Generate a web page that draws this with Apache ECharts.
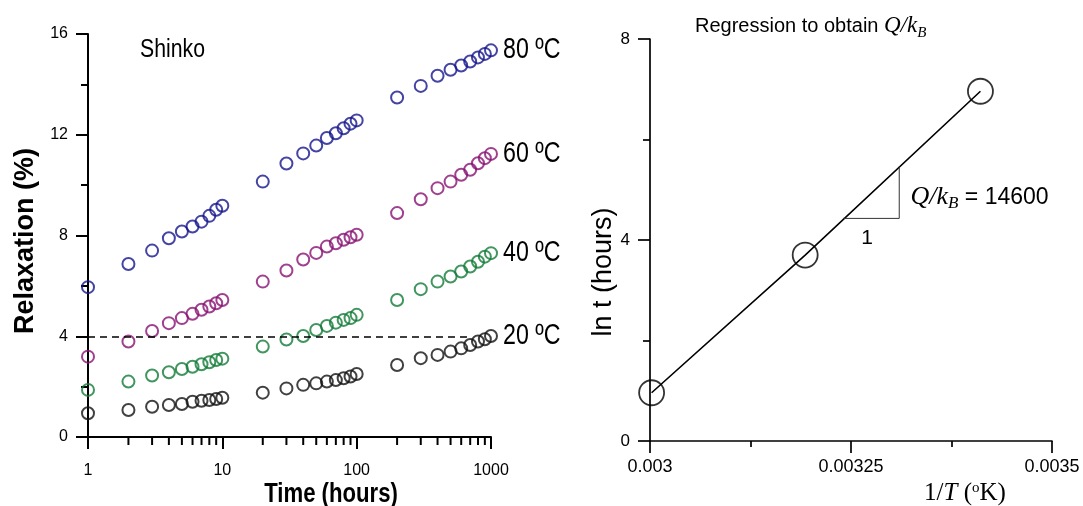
<!DOCTYPE html>
<html><head><meta charset="utf-8">
<script src="https://cdn.jsdelivr.net/npm/echarts@6/dist/echarts.min.js"></script>
<style>html,body{margin:0;padding:0;background:#fff}#c{width:1083px;height:506px}</style>
</head><body><div id="c"></div>
<script>
// ---- data ----
const hours = [1,2,3,4,5,6,7,8,9,10,20,30,40,50,60,70,80,90,100,200,300,400,500,600,700,800,900,1000];
const relax80 = [5.95,6.87,7.40,7.89,8.16,8.36,8.55,8.78,9.02,9.18,10.14,10.86,11.26,11.57,11.87,12.06,12.26,12.44,12.57,13.48,13.94,14.34,14.58,14.75,14.91,15.07,15.21,15.35];
const relax60 = [3.19,3.79,4.21,4.52,4.72,4.89,5.05,5.18,5.31,5.44,6.17,6.61,7.05,7.31,7.56,7.69,7.83,7.93,8.03,8.89,9.44,9.88,10.14,10.41,10.61,10.87,11.07,11.24];
const relax40 = [1.87,2.20,2.44,2.57,2.70,2.79,2.89,2.97,3.06,3.11,3.59,3.87,4.01,4.25,4.41,4.54,4.65,4.72,4.85,5.44,5.87,6.17,6.37,6.57,6.77,6.96,7.16,7.30];
const relax20 = [0.94,1.07,1.20,1.27,1.31,1.40,1.44,1.47,1.51,1.56,1.76,1.93,2.07,2.13,2.20,2.26,2.33,2.40,2.50,2.86,3.13,3.26,3.39,3.52,3.65,3.79,3.88,4.01];
const tempLabels = ['80 ºC','60 ºC','40 ºC','20 ºC'];
const thresholdLevel = 4;
const thresholdEnd = 700;
const minorTicksX = [2,3,4,5,6,7,8,9,20,30,40,50,60,70,80,90,200,300,400,500,600,700,800,900];

const invT = [0.003002, 0.003193, 0.003411];
const lnT  = [0.96, 3.70, 6.96];
const slopeTriangle = [[0.00324,4.43],[0.00331,4.43],[0.00331,5.46]];
const slopeText = ' = 14600';
const slopeRun = '1';

// ---- styles ----
const SANS = "'Liberation Sans',Arial,sans-serif";
const SERIF = "'Liberation Serif','Times New Roman',serif";
const colors = ['#15158c','#871272','#117a37','#111111'];
const seriesData = [relax80, relax60, relax40, relax20];

function makeScatter(arr, idx){
  const s = {
    type:'scatter', xAxisIndex:0, yAxisIndex:0, z:3,
    symbol:'circle', symbolSize:12, silent:true,
    itemStyle:{color:'rgba(0,0,0,0)', borderColor:colors[idx], borderWidth:2},
    data: hours.map((h,i)=>[h,arr[i]])
  };
  if (idx === 3) {
    s.markLine = {silent:true, symbol:['none','none'], label:{show:false},
      lineStyle:{type:[7,5], color:'#000', width:1.6},
      data:[[{coord:[hours[0],thresholdLevel]},{coord:[thresholdEnd,thresholdLevel]}]]};
  }
  return s;
}

const axisBlack = {color:'#000', width:2};
const chart = echarts.init(document.getElementById('c'), null, {renderer:'canvas'});
chart.setOption({
  animation:false,
  backgroundColor:'#fff',
  textStyle:{fontFamily:SANS, color:'#000'},
  title:[
    {text:'{a|Regression to obtain }{i|Q/k}{s|B}', left:690, top:6,
     textStyle:{fontWeight:'normal', rich:{
       a:{fontFamily:SANS, fontWeight:'normal', fontSize:20, color:'#000', lineHeight:30},
       i:{fontFamily:SERIF, fontWeight:'normal', fontStyle:'italic', fontSize:23, color:'#000', lineHeight:30},
       s:{fontFamily:SERIF, fontWeight:'normal', fontStyle:'italic', fontSize:15, color:'#000', lineHeight:14, verticalAlign:'bottom'}
     }}}
  ],
  grid:[
    {left:88, right:592, top:34, bottom:69, outerBoundsMode:'none'},
    {left:650, right:31, top:39, bottom:65, outerBoundsMode:'none'}
  ],
  xAxis:[
    {type:'log', logBase:10, gridIndex:0, min:1, max:1000,
     axisLine:{onZero:false, lineStyle:axisBlack},
     axisTick:{length:12, lineStyle:axisBlack},
     axisLabel:{color:'#000', fontSize:16, margin:26, fontFamily:SANS, formatter:v=>String(Math.round(v))},
     splitLine:{show:false}},
    {type:'value', gridIndex:1, min:0.003, max:0.0035, interval:0.00025,
     axisLine:{onZero:false, lineStyle:{color:'#000', width:1.7}},
     axisTick:{length:12, lineStyle:{color:'#000', width:1.7}},
     minorTick:{show:true, splitNumber:2, length:6, lineStyle:{color:'#000', width:1.7}},
     axisLabel:{color:'#000', fontSize:18, margin:17, fontFamily:SANS, formatter:v=>String(+(+v).toPrecision(6))},
     splitLine:{show:false},
     name:'{a|1/}{i|T}{a| (}{s|o}{a|K)}', nameLocation:'middle', nameGap:20,
     nameTextStyle:{padding:[0,0,0,228], rich:{
       a:{fontFamily:SERIF, fontSize:25, color:'#000', lineHeight:26},
       i:{fontFamily:SERIF, fontStyle:'italic', fontSize:25, color:'#000', lineHeight:26},
       s:{fontFamily:SERIF, fontSize:15, color:'#000', lineHeight:14, verticalAlign:'top'}
     }}}
  ],
  yAxis:[
    {type:'value', gridIndex:0, min:0, max:16, interval:4,
     axisLine:{show:true, onZero:false, lineStyle:axisBlack},
     axisTick:{show:true, length:12, lineStyle:axisBlack},
     minorTick:{show:true, splitNumber:2, length:7, lineStyle:axisBlack},
     axisLabel:{color:'#000', fontSize:16, margin:20, fontFamily:SANS},
     splitLine:{show:false},
     name:'Relaxation (%)', nameLocation:'middle', nameRotate:90, nameGap:49,
     nameTextStyle:{fontFamily:SANS, fontWeight:'bold', fontSize:27, color:'#000', padding:[0,11,0,0]}},
    {type:'value', gridIndex:1, min:0, max:8, interval:4,
     axisLine:{show:true, onZero:false, lineStyle:{color:'#000', width:1.7}},
     axisTick:{show:true, length:12, lineStyle:{color:'#000', width:1.7}},
     minorTick:{show:true, splitNumber:2, length:7, lineStyle:{color:'#000', width:1.7}},
     axisLabel:{color:'#000', fontSize:17, margin:20, fontFamily:SANS},
     splitLine:{show:false},
     name:'ln t (hours)', nameLocation:'middle', nameRotate:90, nameGap:31,
     nameTextStyle:{fontFamily:SANS, fontSize:27, color:'#000', padding:[0,64,0,0]}}
  ],
  series:[
    ...seriesData.map((a,i)=>makeScatter(a,i)),
    {type:'custom', xAxisIndex:0, yAxisIndex:0, silent:true, clip:false, z:1,
     data: minorTicksX.map(v=>[v,0]),
     renderItem:(params, api)=>{
       const p = api.coord([api.value(0), api.value(1)]);
       return {type:'line', shape:{x1:p[0], y1:p[1], x2:p[0], y2:p[1]+8}, style:{stroke:'#000', lineWidth:2}};
     }},
    {type:'line', xAxisIndex:1, yAxisIndex:1, showSymbol:false, silent:true, z:2,
     lineStyle:{color:'#000', width:1.6},
     data: invT.map((x,i)=>[x,lnT[i]])},
    {type:'scatter', xAxisIndex:1, yAxisIndex:1, silent:true, z:3,
     symbol:'circle', symbolSize:25,
     itemStyle:{color:'rgba(0,0,0,0)', borderColor:'#000', borderWidth:1.8},
     data: invT.map((x,i)=>[x,lnT[i]])},
    {type:'line', xAxisIndex:1, yAxisIndex:1, showSymbol:false, silent:true, z:2,
     lineStyle:{color:'#333', width:1},
     data: slopeTriangle,
     markPoint:{silent:true, symbol:'circle', symbolSize:0, data:[
       {coord:[0.003324,4.85], label:{show:true, position:'right', distance:0, formatter:'{i|Q/k}{s|B}{a|'+slopeText+'}',
         rich:{
           i:{fontFamily:SERIF, fontStyle:'italic', fontSize:26, color:'#000', lineHeight:30},
           s:{fontFamily:SERIF, fontStyle:'italic', fontSize:17, color:'#000', lineHeight:14, verticalAlign:'bottom'},
           a:{fontFamily:SANS, fontSize:23, color:'#000', lineHeight:30}
         }}},
       {coord:[0.00327,4.04], label:{show:true, position:'inside', formatter:slopeRun, fontFamily:SANS, fontSize:21, color:'#000'}}
     ]}}
  ]
});

// Condensed texts (the reference uses a narrow face): placed via the chart's own scales.
const last = hours.length - 1;
const tempGraphics = seriesData.map((arr, i) => {
  const p = chart.convertToPixel({xAxisIndex:0, yAxisIndex:0}, [hours[last], arr[last]]);
  return {type:'text', x:p[0] + 12, y:p[1], scaleX:0.8, silent:true,
    style:{text:tempLabels[i], fontFamily:SANS, fontSize:29, fill:'#000', textAlign:'left', textVerticalAlign:'middle'}};
});
const gridMidX = chart.convertToPixel({xAxisIndex:0}, 31.6);
chart.setOption({graphic:[
  ...tempGraphics,
  {type:'text', x:140, y:50, scaleX:0.85, silent:true,
   style:{text:'Shinko', fontFamily:SANS, fontSize:25, fill:'#000', textAlign:'left', textVerticalAlign:'middle'}},
  {type:'text', x:331, y:495, scaleX:0.82, silent:true,
   style:{text:'Time (hours)', fontFamily:SANS, fontWeight:'bold', fontSize:27, fill:'#000', textAlign:'center', textVerticalAlign:'middle'}}
]});
</script>
</body></html>
